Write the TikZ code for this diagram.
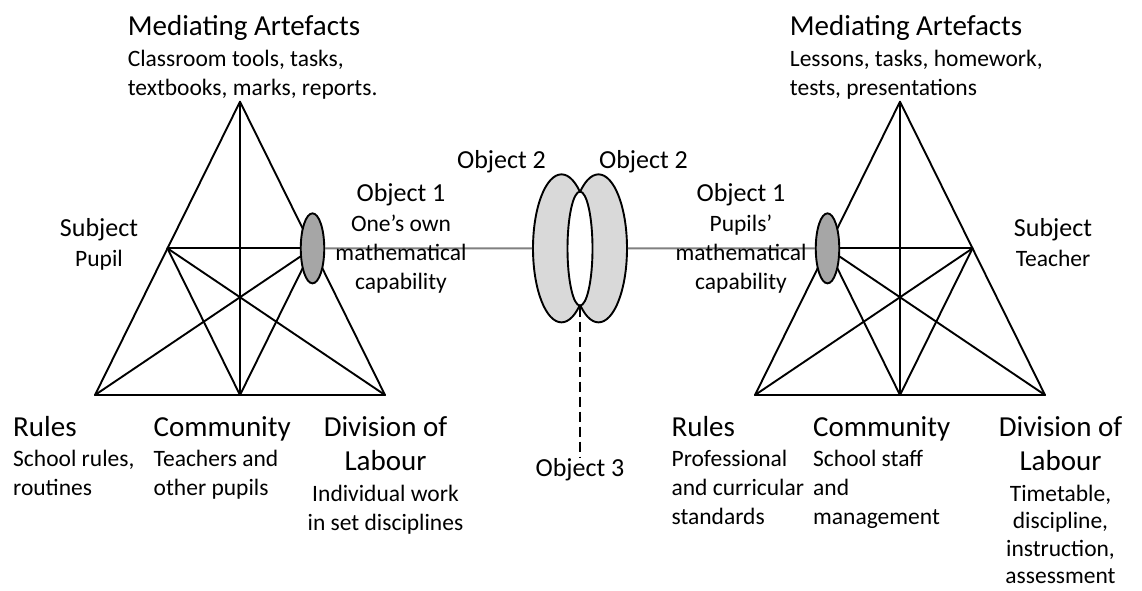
\documentclass[tikz,border=0pt]{standalone}
\usepackage{fontspec}
\setmainfont{Carlito}
\usetikzlibrary{shapes.geometric}
\definecolor{linkgray}{HTML}{808080}
\definecolor{focusgray}{HTML}{A6A6A6}
\definecolor{sharedgray}{HTML}{D9D9D9}
% heading sizes used inside the label blocks
\newcommand\bighead[1]{{\fontsize{29}{29}\selectfont #1}}
\newcommand\midhead[1]{{\fontsize{26}{29}\selectfont #1}}
\begin{document}
\begin{tikzpicture}[x=1pt,y=-1pt,
  txt/.style={inner sep=0pt, font=\fontsize{23.5}{29}\selectfont},
  % multi-line blocks are placed by the baseline of their last line
  txtl/.style={txt, align=left, anchor=base west},
  txtc/.style={txt, align=center, anchor=base},
  side/.style={line width=1.9pt, line cap=round, line join=round},
  link/.style={line width=1.9pt, draw=linkgray},
  focus/.style={ellipse, draw, line width=1.9pt, fill=focusgray,
    minimum width=23.5pt, minimum height=70pt, inner sep=0pt},
  shared/.style={ellipse, draw, line width=1.9pt, fill=sharedgray,
    minimum width=57pt, minimum height=148pt, inner sep=0pt},
  common/.style={ellipse, draw, line width=1.9pt, fill=white,
    minimum width=25pt, minimum height=114pt, inner sep=0pt},
  lead/.style={line width=2pt, dash pattern=on 10pt off 5pt},
]
\useasboundingbox (0,0) rectangle (1142,590);

% ---- pupil's activity system (left triangle)
\begin{scope}[shift={(240,101.7)}]
  \coordinate (LA)  at (0,0);
  \coordinate (LBL) at (-145,293.3);
  \coordinate (LBR) at (145,293.3);
  \coordinate (LBM) at (0,293.3);
  \coordinate (LLM) at (-72.5,146.65);
  \coordinate (LRM) at (72.5,146.65);
\end{scope}
\draw[side] (LA) -- (LBL) -- (LBR) -- cycle;
\draw[side] (LA) -- (LBM);
\draw[side] (LLM) -- (LRM);
\draw[side] (LLM) -- (LBM);
\draw[side] (LLM) -- (LBR);
\draw[side] (LRM) -- (LBM);
\draw[side] (LRM) -- (LBL);

% ---- teacher's activity system (right triangle)
\begin{scope}[shift={(900,101.7)}]
  \coordinate (RA)  at (0,0);
  \coordinate (RBL) at (-145,293.3);
  \coordinate (RBR) at (145,293.3);
  \coordinate (RBM) at (0,293.3);
  \coordinate (RLM) at (-72.5,146.65);
  \coordinate (RRM) at (72.5,146.65);
\end{scope}
\draw[side] (RA) -- (RBL) -- (RBR) -- cycle;
\draw[side] (RA) -- (RBM);
\draw[side] (RLM) -- (RRM);
\draw[side] (RLM) -- (RBM);
\draw[side] (RLM) -- (RBR);
\draw[side] (RRM) -- (RBM);
\draw[side] (RRM) -- (RBL);

% ---- objects
\node[focus] (objL) at (LRM) {};
\node[focus] (objR) at (RLM) {};
\node[shared] (sharedL) at (561.5,248.35) {};
\node[shared] (sharedR) at (598.5,248.35) {};
\node[common] (commonobj) at (580,248.6) {};

\draw[link] (objL) -- (sharedL);
\draw[link] (sharedR) -- (objR);

% ---- labels, left system
\node[txtl] (medL) at (127.6,95)
  {\bighead{Mediating Artefacts}\\[2pt] Classroom tools, tasks,\\ textbooks, marks, reports.};
\node[txtc] (subjL) at (99,266) {\midhead{Subject}\\[1pt] Pupil};
\node[txtc] (obj1L) at (401,289)
  {\midhead{Object 1}\\[0.5pt] One’s own\\ mathematical\\ capability};
\node[txtl] (rulesL) at (13,495.5)
  {\bighead{Rules}\\[1.5pt] School rules,\\ routines};
\node[txtl] (commL) at (153.5,495.5)
  {\bighead{Community}\\[1.5pt] Teachers and\\ other pupils};
\node[txtc] (divL) at (385.5,530)
  {\bighead{Division of}\\[5.5pt] \bighead{Labour}\\[1.5pt] Individual work\\ in set disciplines};

% ---- labels, shared objects
\node[txtc] (obj2L) at (501.5,168.3) {\midhead{Object 2}};
\node[txtc] (obj2R) at (643.5,168.3) {\midhead{Object 2}};
\node[txtc] (obj3) at (580,476) {\midhead{Object 3}};
\draw[lead] (commonobj.south) -- (obj3.north);

% ---- labels, right system
\node[txtl] (medR) at (789.7,95)
  {\bighead{Mediating Artefacts}\\[2pt] Lessons, tasks, homework,\\ tests, presentations};
\node[txtc] (subjR) at (1053,266) {\midhead{Subject}\\[1pt] Teacher};
\node[txtc] (obj1R) at (741,289)
  {\midhead{Object 1}\\[0.5pt] Pupils’\\ mathematical\\ capability};
\node[txtl] (rulesR) at (671.4,524.5)
  {\bighead{Rules}\\[1.5pt] Professional\\ and curricular\\ standards};
\node[txtl] (commR) at (813,524.5)
  {\bighead{Community}\\[1.5pt] School staff\\ and\\ management};
\node[txtc] (divR) at (1060.5,583.5)
  {\bighead{Division of}\\[5.5pt] \bighead{Labour}\\[1.5pt] Timetable,\\[-1.5pt] discipline,\\[-1.5pt] instruction,\\[-1.5pt] assessment};
\end{tikzpicture}
\end{document}
